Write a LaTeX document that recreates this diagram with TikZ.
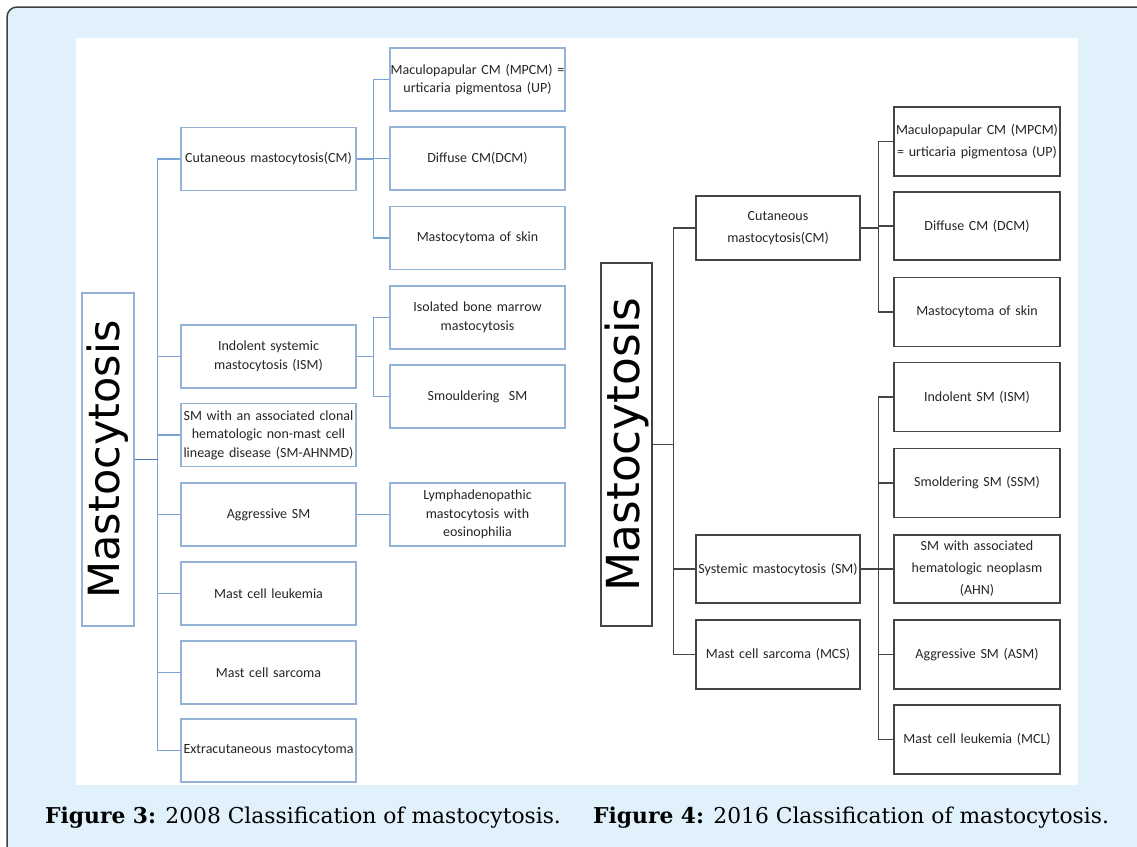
\documentclass[tikz,border=0pt]{standalone}
\usepackage{fontspec}
\usepackage{tikz}
\newfontfamily\boxfont{Carlito}
\newfontfamily\rootfont{DejaVu Sans}
\newfontfamily\capfont{DejaVu Serif}
\definecolor{panelblue}{HTML}{E0F1FB}
\definecolor{boxblue}{HTML}{95B3D7}
\definecolor{lineblue}{HTML}{7BA4D6}
\definecolor{rootblue}{HTML}{4A7EBB}
\definecolor{boxgray}{HTML}{454545}

\begin{document}
\begin{tikzpicture}
[x=1pt,y=-1pt,
%%%%%%%%%%%%%%%%%%%%%%%%%%%%%%
lbox/.style={rectangle,draw=boxblue,line width=1.3pt,minimum width=175pt,minimum height=63pt,text width=175pt,inner xsep=0pt,align=center,text=black!85,font=\boxfont\fontsize{14}{18.5}\selectfont},
rbox/.style={rectangle,draw=boxgray,line width=1.3pt,minimum width=166pt,minimum height=69pt,text width=166pt,inner xsep=0pt,align=center,text=black!85,font=\boxfont\fontsize{14}{22}\selectfont},
lline/.style={draw=lineblue,line width=1.1pt},
rline/.style={draw=boxgray,line width=1.1pt},
caption/.style={anchor=base west,inner sep=0pt,font=\capfont\fontsize{21.8}{24}\selectfont},
]%%%%%%%%%%%%%%%%%%%%%%%%%%%%%%
\useasboundingbox (0,0) rectangle (1137,846);
\clip (0,0) rectangle (1137,846);
\fill[white] (0,0) rectangle (1137,846);
\draw[draw=black!75,line width=1.5pt,fill=panelblue,rounded corners=10pt] (7,7) rectangle (1170,880);
\fill[white] (76,38) rectangle (1078,785);

% 2008
\node[lbox,minimum width=52pt,minimum height=333pt,text width=,inner sep=0pt,text=black,font=\rootfont\fontsize{43}{43}\selectfont] (lroot) at (108,459.5) {\rotatebox{90}{Mastocytosis}};

\node[lbox] (cm) at (268.5,159) {Cutaneous mastocytosis(CM)};
\node[lbox] (ism) at (268.5,356.5) {Indolent systemic\\ mastocytosis (ISM)};
\node[lbox] (ahnmd) at (268.5,435) {SM with an associated clonal\\ hematologic non-mast cell\\ lineage disease (SM-AHNMD)};
\node[lbox] (asm) at (268.5,514.5) {Aggressive SM};
\node[lbox] (mcl) at (268.5,593.5) {Mast cell leukemia};
\node[lbox] (mcs) at (268.5,672.5) {Mast cell sarcoma};
\node[lbox] (extra) at (268.5,750.5) {Extracutaneous mastocytoma};

\node[lbox] (mpcm) at (477.5,79.5) {Maculopapular CM (MPCM) =\\ urticaria pigmentosa (UP)};
\node[lbox] (dcm) at (477.5,158.5) {Diffuse CM(DCM)};
\node[lbox] (skin) at (477.5,238) {Mastocytoma of skin};
\node[lbox] (ibmm) at (477.5,317.5) {Isolated bone marrow\\ mastocytosis};
\node[lbox] (ssm) at (477.5,396.5) {Smouldering\ \ SM};
\node[lbox] (lme) at (477.5,514.5) {Lymphadenopathic\\ mastocytosis with\\ eosinophilia};

\foreach \n in {cm,ism,ahnmd,asm,mcl,mcs,extra}
\draw[lline] (lroot.east) -- ++(23,0) |- (\n.west);
\draw[lline,draw=rootblue,line width=1.8pt] (lroot.east) -- ++(23,0);
\foreach \n in {mpcm,dcm,skin}
\draw[lline] (cm.east) -- ++(17,0) |- (\n.west);
\foreach \n in {ibmm,ssm}
\draw[lline] (ism.east) -- ++(17,0) |- (\n.west);
\draw[lline] (asm.east) -- (lme.west);

% 2016
\node[rbox,minimum width=51pt,minimum height=363pt,text width=,inner sep=0pt,text=black,font=\rootfont\fontsize{45.5}{45.5}\selectfont] (rroot) at (626.5,444.5) {\rotatebox{90}{Mastocytosis}};

\node[rbox,minimum width=164pt,text width=164pt,minimum height=64pt] (rcm) at (778,228) {Cutaneous\\ mastocytosis(CM)};
\node[rbox,minimum width=164pt,text width=164pt,minimum height=68pt] (rsm) at (778,569) {Systemic mastocytosis (SM)};
\node[rbox,minimum width=164pt,text width=164pt] (rmcs) at (778,654.5) {Mast cell sarcoma (MCS)};

\node[rbox] (rmpcm) at (977,141.5) {Maculopapular CM (MPCM)\\ = urticaria pigmentosa (UP)};
\node[rbox,minimum height=68pt] (rdcm) at (977,226) {Diffuse CM (DCM)};
\node[rbox] (rskin) at (977,312) {Mastocytoma of skin};
\node[rbox] (rism) at (977,397) {Indolent SM (ISM)};
\node[rbox] (rssm) at (977,483) {Smoldering SM (SSM)};
\node[rbox,minimum height=68pt] (rahn) at (977,569) {SM with associated\\ hematologic neoplasm\\ (AHN)};
\node[rbox] (rasm) at (977,654.5) {Aggressive SM (ASM)};
\node[rbox] (rmcl) at (977,739.5) {Mast cell leukemia (MCL)};

\foreach \n in {rcm,rsm,rmcs}
\draw[rline] (rroot.east) -- ++(21,0) |- (\n.west);
\draw[rline,line width=1.6pt] (rroot.east) -- ++(21,0);
\foreach \n in {rmpcm,rdcm,rskin}
\draw[rline] (rcm.east) -- ++(18,0) |- (\n.west);
\foreach \n in {rism,rssm,rahn,rasm,rmcl}
\draw[rline] (rsm.east) -- ++(18,0) |- (\n.west);
\draw[rline,line width=1.6pt] (rsm.east) -- ++(18,0);

\node[caption] (cap3) at (45,823) {\textbf{Figure 3:} 2008 Classification of mastocytosis.};
\node[caption] (cap4) at (593,823) {\textbf{Figure 4:} 2016 Classification of mastocytosis.};
\end{tikzpicture}
\end{document}
